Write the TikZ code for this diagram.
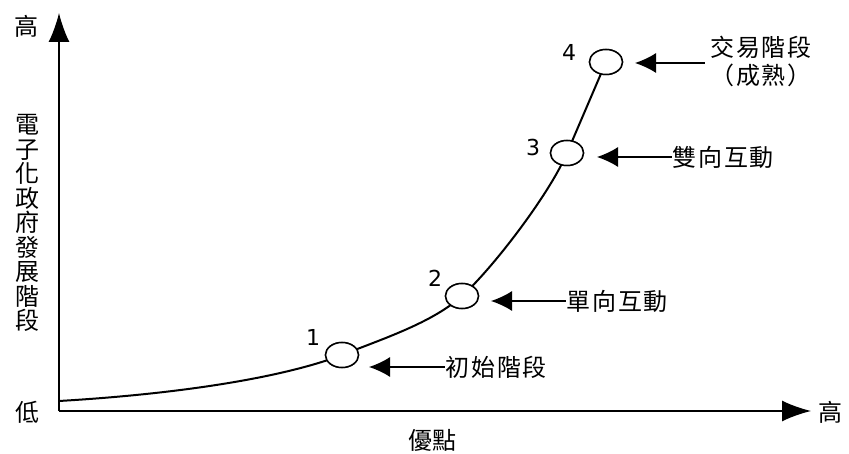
\documentclass[tikz,border=0pt]{standalone}
\usepackage{fontspec}
\setmainfont{DejaVu Sans}
\newfontfamily\cjk{Noto Sans CJK TC}
\newfontfamily\cjksp[LetterSpace=8]{Noto Sans CJK TC}
\usetikzlibrary{arrows.meta,shapes.geometric}
\begin{document}
\begin{tikzpicture}[x=1pt,y=-1pt,
  axis/.style={line width=1.6pt,-{Latex[length=29pt,width=21pt]}},
  curve/.style={line width=2pt},
  stage/.style={ellipse,draw,line width=1.5pt,fill=white,minimum width=33pt,minimum height=25pt,inner sep=0pt},
  num/.style={font=\fontsize{22}{22}\selectfont},
  ptr/.style={line width=1.3pt,{Latex[length=21pt,width=20pt]}-},
  lab/.style={font=\cjksp\fontsize{24}{28}\selectfont,inner sep=0pt,align=center},
  axlab/.style={font=\cjk\fontsize{24}{24.5}\selectfont,inner sep=0pt,align=center}]
\useasboundingbox (0,0) rectangle (849,454);
% axes
\coordinate (O) at (59,411);
\coordinate (ytip) at (59,13);
\coordinate (xtip) at (811,411);
\draw[axis] (O) -- (ytip);
\draw[axis] (O) -- (xtip);
\node[axlab] (hiy) at (26,26) {高};
\node[axlab] (lo) at (27,412) {低};
\node[axlab] (hix) at (830,412) {高};
\node[axlab] (ylab) at (27,223) {電\\子\\化\\政\\府\\發\\展\\階\\段};
\node[axlab] (xlab) at (432,440) {優點};
% stages and curve
\coordinate (s0) at (59,401);
\node[stage] (e1) at (342,355) {};
\node[stage] (e2) at (462,296) {};
\node[stage] (e3) at (567,153) {};
\node[stage] (e4) at (606,62) {};
\draw[curve] (s0) .. controls +(135,-8) and +(-52,20) .. (e1.center)
  .. controls +(40,-16) and +(-30,27) .. (e2.center)
  .. controls +(30,-27) and +(-18,42) .. (e3.center)
  .. controls +(18,-42) and +(-15,35) .. (e4.center);
\node[stage] at (e1) {};
\node[stage] at (e2) {};
\node[stage] at (e3) {};
\node[stage] at (e4) {};
% numbers
\node[num] (n1) at (313,337) {1};
\node[num] (n2) at (435,278) {2};
\node[num] (n3) at (533,147) {3};
\node[num] (n4) at (569,52) {4};
% labels and pointers
\node[lab,anchor=west] (t1) at (445,367) {初始階段};
\node[lab,anchor=west] (t2) at (566,301) {單向互動};
\node[lab,anchor=west] (t3) at (672,157) {雙向互動};
\node[lab] (t4) at (761,61) {交易階段\\（成熟）};
\coordinate (a1) at (369,367);
\coordinate (a2) at (491,301);
\coordinate (a3) at (597,157);
\coordinate (a4) at (635,63);
\draw[ptr] (a1) -- (t1.west);
\draw[ptr] (a2) -- (t2.west);
\draw[ptr] (a3) -- (t3.west);
\draw[ptr] (a4) -- ++(70,0);
\end{tikzpicture}
\end{document}
